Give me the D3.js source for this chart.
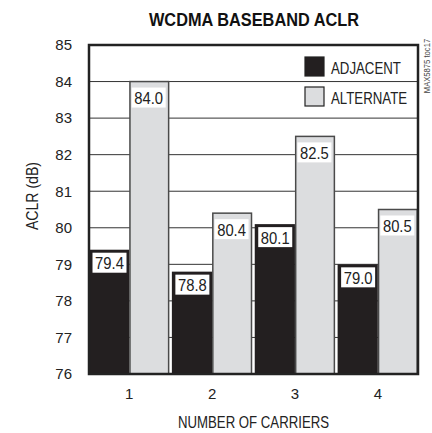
<!DOCTYPE html>
<html>
<head>
<meta charset="utf-8">
<script src="https://cdn.jsdelivr.net/npm/d3@7"></script>
<style>
  body { margin: 0; background: #fff; }
  text { font-family: "Liberation Sans", Arial, sans-serif; }
</style>
</head>
<body>
<div id="chart"></div>
<script>
// data
const carriers = ["1", "2", "3", "4"];
const seriesNames = ["ADJACENT", "ALTERNATE"];
const adjacent = [79.4, 78.8, 80.1, 79.0];
const alternate = [84.0, 80.4, 82.5, 80.5];
const yTicks = [76, 77, 78, 79, 80, 81, 82, 83, 84, 85];

const colors = {ADJACENT: "#231f20", ALTERNATE: "#dcdddf"};

const W = 432, H = 433;
const margin = {top: 45, right: 14, bottom: 59, left: 89};
const width = W - margin.left - margin.right,
      height = H - margin.top - margin.bottom;

// no condensed font installed, so squeeze text horizontally
function narrowText(parent, x, y, k, rot) {
  return parent.append("text")
      .attr("transform", `translate(${x},${y})` + (rot ? ` rotate(${rot})` : "") + ` scale(${k},1)`);
}

const svg = d3.select("#chart").append("svg")
    .attr("width", W)
    .attr("height", H);

const g = svg.append("g")
    .attr("transform", `translate(${margin.left},${margin.top})`);

// title
narrowText(svg, 254, 26, 0.86)
    .attr("text-anchor", "middle")
    .attr("font-size", "19px")
    .attr("font-weight", "bold")
    .attr("fill", "#111")
    .text("WCDMA BASEBAND ACLR");

const data = carriers.map((c, i) => ({carrier: c, ADJACENT: adjacent[i], ALTERNATE: alternate[i]}));

const x0 = d3.scaleBand()
    .domain(carriers)
    .range([0, width])
    .paddingInner(0.03);
const x1 = d3.scaleBand()
    .domain(seriesNames)
    .range([0, x0.bandwidth()]);
const y = d3.scaleLinear()
    .domain([76, 85])
    .range([height, 0]);

// grid lines
g.selectAll(".grid")
  .data(yTicks)
  .join("line")
    .attr("x1", 0)
    .attr("x2", width)
    .attr("y1", d => y(d))
    .attr("y2", d => y(d))
    .attr("stroke", "#333")
    .attr("stroke-width", 1);

// y tick labels
g.append("g")
    .call(d3.axisLeft(y).tickValues(yTicks).tickSize(0).tickPadding(17).tickFormat(d3.format("d")))
    .call(a => a.select(".domain").remove())
    .selectAll("text")
      .attr("font-size", "15px")
      .attr("font-family", null)
      .attr("fill", "#222");

// x tick labels
g.append("g")
    .attr("transform", `translate(0,${height})`)
    .call(d3.axisBottom(x0).tickSize(0).tickPadding(14))
    .call(a => a.select(".domain").remove())
    .selectAll("text")
      .attr("font-size", "15px")
      .attr("font-family", null)
      .attr("fill", "#222");

// bars
const groups = g.selectAll(".grp")
  .data(data)
  .join("g")
    .attr("transform", d => `translate(${x0(d.carrier)},0)`);

groups.selectAll("rect.bar")
  .data(d => seriesNames.map(k => ({key: k, value: d[k]})))
  .join("rect")
    .attr("class", "bar")
    .attr("x", d => x1(d.key) + (d.key === "ALTERNATE" ? 0.75 : 0))
    .attr("y", d => y(d.value))
    .attr("width", d => x1.bandwidth() - (d.key === "ALTERNATE" ? 1.5 : 0))
    .attr("height", d => height - y(d.value))
    .attr("fill", d => colors[d.key])
    .attr("stroke", d => d.key === "ALTERNATE" ? "#4a4a4a" : "none")
    .attr("stroke-width", 1.5);

// value labels in white boxes
const labs = groups.selectAll("g.lab")
  .data(d => seriesNames.map(k => ({key: k, value: d[k]})))
  .join("g")
    .attr("class", "lab")
    .attr("transform", d => `translate(${x1(d.key) + (d.key === "ALTERNATE" ? 2.5 : 3.5)},${y(d.value) + (d.key === "ALTERNATE" ? 6 : 3)})`);

labs.append("rect")
    .attr("width", 34)
    .attr("height", 20)
    .attr("fill", "#fff");

labs.each(function(d) {
  narrowText(d3.select(this), 17, 16.5, 0.87)
      .attr("text-anchor", "middle")
      .attr("font-size", "17px")
      .attr("fill", "#222")
      .text(d3.format(".1f")(d.value));
});

// plot frame
g.append("rect")
    .attr("width", width)
    .attr("height", height)
    .attr("fill", "none")
    .attr("stroke", "#222")
    .attr("stroke-width", 2.5);

// legend
const legend = g.selectAll(".leg")
  .data(seriesNames)
  .join("g")
    .attr("transform", (d, i) => `translate(216,${12 + i * 30})`);
legend.append("rect")
    .attr("width", 19)
    .attr("height", 19)
    .attr("fill", d => colors[d])
    .attr("stroke", "#222")
    .attr("stroke-width", 1.2);
legend.each(function(d) {
  narrowText(d3.select(this), 26, 16.5, 0.78)
      .attr("font-size", "17px")
      .attr("fill", "#222")
      .text(d);
});

// axis titles
narrowText(svg, 38, 196, 0.88, -90)
    .attr("text-anchor", "middle")
    .attr("font-size", "16px")
    .attr("fill", "#222")
    .text("ACLR (dB)");

narrowText(svg, margin.left + width / 2, 428, 0.8)
    .attr("text-anchor", "middle")
    .attr("font-size", "16.5px")
    .attr("fill", "#222")
    .text("NUMBER OF CARRIERS");

// part number
narrowText(svg, 430, 66, 0.85, -90)
    .attr("text-anchor", "middle")
    .attr("font-size", "9px")
    .attr("fill", "#444")
    .text("MAX5875 toc17");
</script>
</body>
</html>
